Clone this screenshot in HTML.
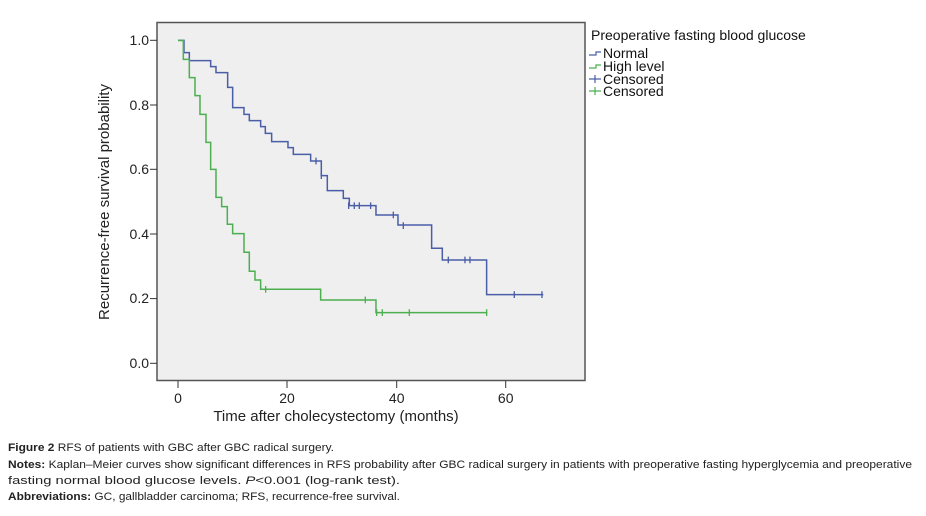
<!DOCTYPE html>
<html><head><meta charset="utf-8"><style>
html,body{margin:0;padding:0;background:#fff;}
svg{display:block;font-family:"Liberation Sans",Arial,sans-serif;}
</style></head><body>
<svg width="926" height="516" viewBox="0 0 926 516" xmlns="http://www.w3.org/2000/svg">
<rect x="157" y="22.5" width="428" height="358" fill="#efefef" stroke="#555" stroke-width="1.5"/>
<g stroke="#333" stroke-width="1">
<line x1="150" y1="40.3" x2="157" y2="40.3"/><line x1="150" y1="105" x2="157" y2="105"/>
<line x1="150" y1="169.3" x2="157" y2="169.3"/><line x1="150" y1="234" x2="157" y2="234"/>
<line x1="150" y1="298.6" x2="157" y2="298.6"/><line x1="150" y1="363.3" x2="157" y2="363.3"/>
<line x1="178" y1="381" x2="178" y2="388"/><line x1="287" y1="381" x2="287" y2="388"/>
<line x1="396.7" y1="381" x2="396.7" y2="388"/><line x1="505.7" y1="381" x2="505.7" y2="388"/>
</g>
<g font-size="14" fill="#222" text-anchor="end">
<text x="149" y="45">1.0</text><text x="149" y="110">0.8</text><text x="149" y="174">0.6</text>
<text x="149" y="239">0.4</text><text x="149" y="303">0.2</text><text x="149" y="368">0.0</text>
</g>
<g font-size="14" fill="#222" text-anchor="middle">
<text x="178" y="403">0</text><text x="287" y="403">20</text><text x="396.7" y="403">40</text><text x="505.7" y="403">60</text>
<text x="336" y="421" font-size="15">Time after cholecystectomy (months)</text>
<text transform="translate(109,202) rotate(-90)" font-size="15">Recurrence-free survival probability</text>
</g>
<g transform="translate(90,0) scale(0.3333)" fill="none">
<path stroke="#4a5ea8" stroke-width="4.5" d="M264,121 H282 V158 H298 V182 H362 V200 H378 V218 H413 V262 H428 V323 H462 V343 H478 V362 H512 V380 H526 V400 H545 V425 H594 V443 H610 V463 H662 V483 H694 V527 H712 V572 H760 V595 H778 V617 H858 V645 H924 V675 H1025 V745 H1057 V780 H1190 V884 H1360"/>
<path stroke="#4a5ea8" stroke-width="4" d="M678,473v20M694,517v20M776,607v20M793,607v20M808,607v20M842,607v20M910,635v20M940,667v20M1075,770v20M1125,770v20M1140,770v20M1273,874v20M1356,874v20"/>
<path stroke="#4caf50" stroke-width="4.5" d="M264,121 H280 V178 H298 V233 H315 V287 H330 V343 H348 V427 H362 V508 H378 V592 H395 V620 H412 V673 H428 V701 H462 V757 H478 V814 H495 V840 H512 V868 H692 V900 H858 V938 H1192"/>
<path stroke="#4caf50" stroke-width="4" d="M527,858v20M826,890v20M860,928v20M877,928v20M958,928v20M1190,928v20"/>
</g>
<text x="591" y="40" font-size="14" fill="#111">Preoperative fasting blood glucose</text>
<g stroke-width="1.2" fill="none">
<path d="M589,55h7v-3h5" stroke="#4a5ea8"/><path d="M589,68h7v-3h5" stroke="#4caf50"/>
<path d="M589,79h12M595,75v8" stroke="#4a5ea8"/><path d="M589,91h12M595,87v8" stroke="#4caf50"/>
</g>
<g font-size="14" fill="#111">
<text x="603" y="58">Normal</text><text x="603" y="71">High level</text>
<text x="603" y="84">Censored</text><text x="603" y="96">Censored</text>
</g>
<g font-size="10.8" fill="#222">
<text x="8" y="451" textLength="326" lengthAdjust="spacingAndGlyphs"><tspan font-weight="bold">Figure 2</tspan> RFS of patients with GBC after GBC radical surgery.</text>
<text x="8" y="468" textLength="904" lengthAdjust="spacingAndGlyphs"><tspan font-weight="bold">Notes:</tspan> Kaplan–Meier curves show significant differences in RFS probability after GBC radical surgery in patients with preoperative fasting hyperglycemia and preoperative</text>
<text x="8" y="484" textLength="392" lengthAdjust="spacingAndGlyphs">fasting normal blood glucose levels. <tspan font-style="italic">P</tspan>&lt;0.001 (log-rank test).</text>
<text x="8" y="500" textLength="392" lengthAdjust="spacingAndGlyphs"><tspan font-weight="bold">Abbreviations:</tspan> GC, gallbladder carcinoma; RFS, recurrence-free survival.</text>
</g>
</svg>
</body></html>
